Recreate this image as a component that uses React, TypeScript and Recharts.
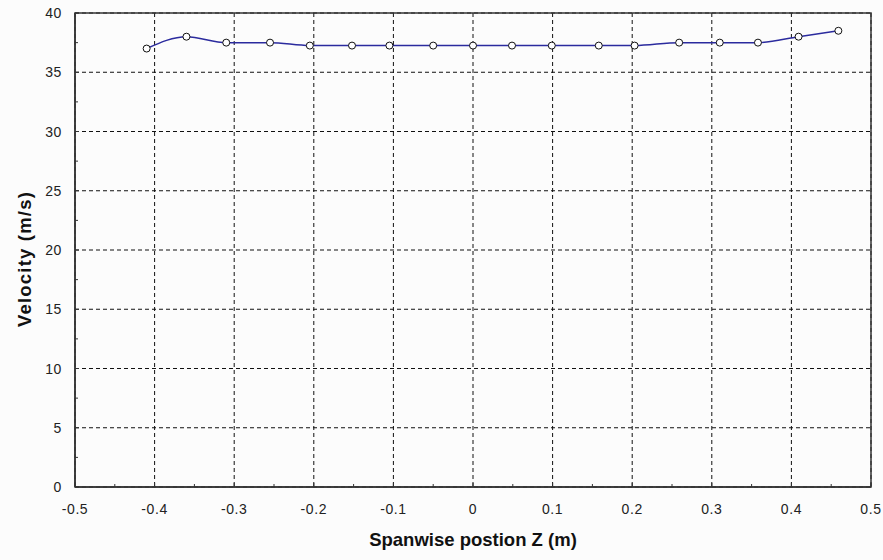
import React from 'react';
import { LineChart, Line, XAxis, YAxis, CartesianGrid, ReferenceArea } from 'recharts';

const positionZ = [-0.41, -0.36, -0.31, -0.255, -0.205, -0.152, -0.105, -0.05, 0, 0.049, 0.099, 0.158, 0.203, 0.259, 0.31, 0.358, 0.409, 0.459];
const velocity = [37.0, 38.0, 37.5, 37.5, 37.25, 37.25, 37.25, 37.25, 37.25, 37.25, 37.25, 37.25, 37.25, 37.5, 37.5, 37.5, 38.0, 38.5];

const xMajor = [-0.5, -0.4, -0.3, -0.2, -0.1, 0, 0.1, 0.2, 0.3, 0.4, 0.5];
const xMinor = [-0.45, -0.35, -0.25, -0.15, -0.05, 0.05, 0.15, 0.25, 0.35, 0.45];
const xLabels = ['-0.5', '-0.4', '-0.3', '-0.2', '-0.1', '0', '0.1', '0.2', '0.3', '0.4', '0.5'];
const yMajor = [0, 5, 10, 15, 20, 25, 30, 35, 40];
const yMinor = [2.5, 7.5, 12.5, 17.5, 22.5, 27.5, 32.5, 37.5];
const yLabels = ['0', '5', '10', '15', '20', '25', '30', '35', '40'];

const data = positionZ.map((z, i) => ({ z, v: velocity[i] }));
const xTicks = [...xMajor, ...xMinor].sort((a, b) => a - b);
const yTicks = [...yMajor, ...yMinor].sort((a, b) => a - b);

const FONT = '"Liberation Sans", Arial, sans-serif';
const AXIS = '#333333';

const findIdx = (arr: number[], v: number) => arr.findIndex((a) => Math.abs(a - v) < 1e-9);

const XTick = (props: any) => {
  const { x, y, payload } = props;
  const idx = findIdx(xMajor, payload.value);
  const major = idx >= 0;
  return (
    <g>
      <line x1={x} x2={x} y1={y} y2={y - (major ? 4 : 3)} stroke={AXIS} strokeWidth={1} />
      {major && (
        <text x={x} y={y + 27} textAnchor="middle" fontFamily={FONT} fontSize={14} letterSpacing={0.6} fill="#222">
          {xLabels[idx]}
        </text>
      )}
    </g>
  );
};

const YTick = (props: any) => {
  const { x, y, payload } = props;
  const idx = findIdx(yMajor, payload.value);
  const major = idx >= 0;
  return (
    <g>
      <line x1={x} x2={x + (major ? 4 : 3)} y1={y} y2={y} stroke={AXIS} strokeWidth={1} />
      {major && (
        <text x={x - 13} y={y + 5} textAnchor="end" fontFamily={FONT} fontSize={14} letterSpacing={0.6} fill="#222">
          {yLabels[idx]}
        </text>
      )}
    </g>
  );
};

const XTitle = (props: any) => {
  const vb = props.viewBox || { x: 75, y: 487, width: 796, height: 73 };
  return (
    <text x={vb.x + vb.width / 2} y={vb.y + 59} textAnchor="middle" fontFamily={FONT} fontSize={18.5} fontWeight="bold" fill="#111">
      Spanwise postion Z (m)
    </text>
  );
};

const YTitle = (props: any) => {
  const vb = props.viewBox || { x: 0, y: 13, width: 75, height: 474 };
  const cx = vb.x + 30.5;
  const cy = vb.y + vb.height / 2 + 9;
  return (
    <text x={cx} y={cy} transform={`rotate(-90 ${cx} ${cy})`} textAnchor="middle" fontFamily={FONT} fontSize={18.5} fontWeight="bold" letterSpacing={1.2} fill="#111">
      Velocity (m/s)
    </text>
  );
};

export default function App() {
  return (
    <div style={{ position: 'absolute', left: 0, top: 0, width: 883, height: 560, background: '#fcfcfc' }}>
      <LineChart width={883} height={560} data={data} margin={{ top: 13, right: 12, bottom: 0, left: 0 }}>
        <CartesianGrid
          horizontalValues={yMajor}
          verticalValues={xMajor}
          stroke="#111"
          strokeDasharray="4 3"
          strokeWidth={1}
        />
        <ReferenceArea x1={-0.5} x2={0.5} y1={0} y2={40} fill="none" stroke={AXIS} strokeWidth={1.5} ifOverflow="visible" />
        <XAxis
          type="number"
          dataKey="z"
          domain={[-0.5, 0.5]}
          ticks={xTicks}
          interval={0}
          height={73}
          tickSize={0}
          tickMargin={0}
          tickLine={false}
          axisLine={{ stroke: AXIS, strokeWidth: 1.5 }}
          tick={<XTick />}
          allowDataOverflow
          label={{ content: <XTitle /> }}
        />
        <YAxis
          type="number"
          domain={[0, 40]}
          ticks={yTicks}
          interval={0}
          width={75}
          tickSize={0}
          tickMargin={0}
          tickLine={false}
          axisLine={{ stroke: AXIS, strokeWidth: 1.5 }}
          tick={<YTick />}
          allowDataOverflow
          label={{ content: <YTitle /> }}
        />
        <Line
          type="monotone"
          dataKey="v"
          stroke="#2b2b9e"
          strokeWidth={1.5}
          dot={{ r: 3.5, fill: '#ffffff', stroke: '#111', strokeWidth: 1 }}
          activeDot={false}
          isAnimationActive={false}
        />
      </LineChart>
    </div>
  );
}
